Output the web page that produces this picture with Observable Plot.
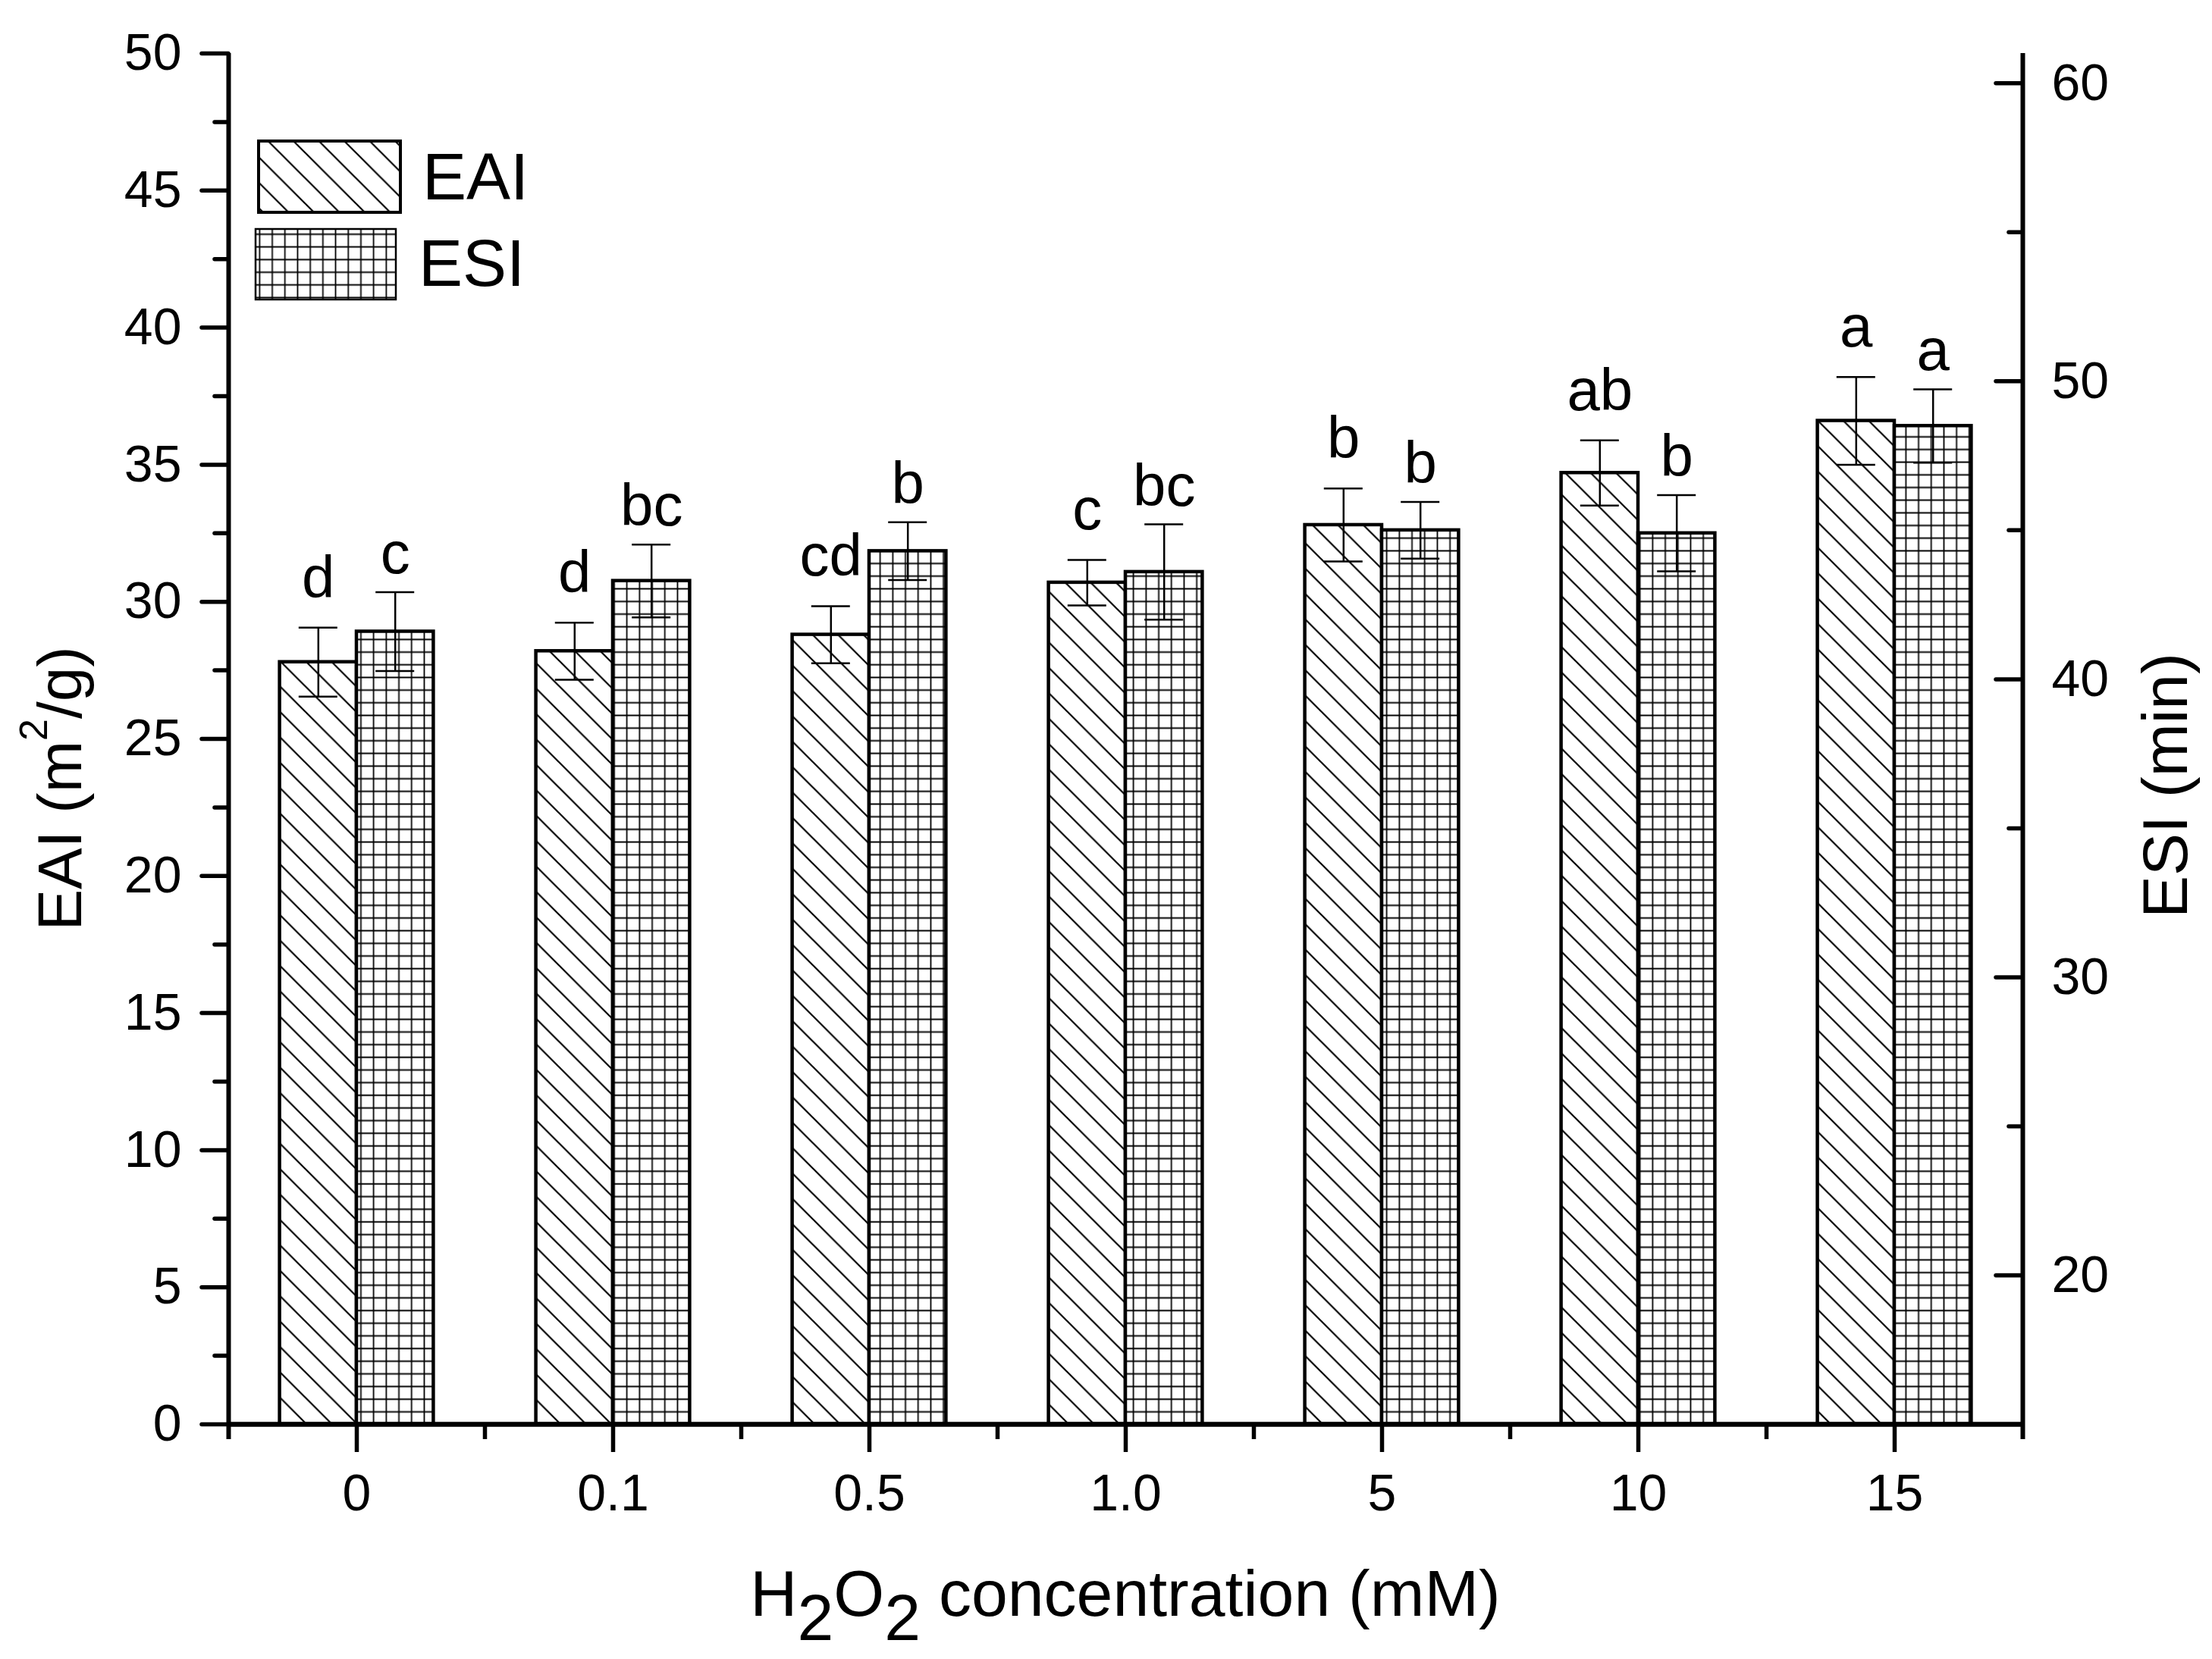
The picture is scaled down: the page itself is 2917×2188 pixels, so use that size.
<!DOCTYPE html>
<html>
<head>
<meta charset="utf-8">
<script src="https://cdn.jsdelivr.net/npm/d3@7"></script>
<script src="https://cdn.jsdelivr.net/npm/@observablehq/plot@0.6"></script>
<style>
  html, body { margin: 0; padding: 0; background: #fff; }
  svg { display: block; }
</style>
</head>
<body>
<div id="chart"></div>
<script>
// ---------- data ----------
const categories = ["0", "0.1", "0.5", "1.0", "5", "10", "15"];
const seriesNames = ["EAI", "ESI"];
const eai = [27.8, 28.2, 28.8, 30.7, 32.8, 34.7, 36.6];       // m2/g (left axis)
const eaiErr = [1.26, 1.04, 1.04, 0.83, 1.33, 1.19, 1.6];
const esi = [41.6, 43.3, 44.3, 43.6, 45.0, 44.9, 48.5];       // min (right axis)
const esiErr = [1.32, 1.22, 0.97, 1.6, 0.95, 1.28, 1.23];
const eaiLetters = ["d", "d", "cd", "c", "b", "ab", "a"];
const esiLetters = ["c", "bc", "b", "bc", "b", "b", "a"];
const eaiTicks = [0, 5, 10, 15, 20, 25, 30, 35, 40, 45, 50];
const eaiMinorTicks = [2.5, 7.5, 12.5, 17.5, 22.5, 27.5, 32.5, 37.5, 42.5, 47.5];
const esiTicks = [20, 30, 40, 50, 60];
const esiMinorTicks = [25, 35, 45, 55];
const eaiDomain = [0, 50];
const esiDomain = [15, 61];

// ---------- layout ----------
const W = 2917, H = 2188;
const mL = 301, mR = 250, mT = 70, mB = 310;
const frameW = W - mL - mR, frameH = H - mT - mB;
const step = frameW / categories.length;
const bw = step * 0.6;
const capHalf = 25.5;
const font = "'Liberation Sans', Arial, Helvetica, sans-serif";

// map the right (ESI) axis onto the left (EAI) axis units
const esiToY = v => (v - esiDomain[0]) * (eaiDomain[1] - eaiDomain[0]) / (esiDomain[1] - esiDomain[0]) + eaiDomain[0];
const yToEsi = y => (y - eaiDomain[0]) * (esiDomain[1] - esiDomain[0]) / (eaiDomain[1] - eaiDomain[0]) + esiDomain[0];

const rows = categories.map((c, i) => ({
  c,
  eai: eai[i], eaiLo: eai[i] - eaiErr[i], eaiHi: eai[i] + eaiErr[i],
  esi: esiToY(esi[i]), esiLo: esiToY(esi[i] - esiErr[i]), esiHi: esiToY(esi[i] + esiErr[i]),
  eaiL: eaiLetters[i], esiL: esiLetters[i]
}));

const chart = Plot.plot({
  width: W, height: H,
  marginLeft: mL, marginRight: mR, marginTop: mT, marginBottom: mB,
  style: { fontFamily: font, background: "#fff", color: "#000", overflow: "visible" },
  x: { type: "band", domain: categories, paddingInner: 0.4, paddingOuter: 0.2, round: false, label: null },
  y: { domain: eaiDomain, label: null },
  marks: [
    // bars
    Plot.barY(rows, { x: "c", y: "eai", insetRight: bw / 2, fill: "url(#hatchEAI)", stroke: "#000", strokeWidth: 4.5 }),
    Plot.barY(rows, { x: "c", y: "esi", insetLeft: bw / 2, fill: "url(#gridESI)", stroke: "#000", strokeWidth: 4.5 }),
    // error bars EAI
    Plot.ruleX(rows, { x: "c", y1: "eaiLo", y2: "eaiHi", dx: -bw / 4, strokeWidth: 2.5 }),
    Plot.tickY(rows, { x: "c", y: "eaiHi", insetLeft: bw / 4 - capHalf, insetRight: 0.75 * bw - capHalf, strokeWidth: 2.5 }),
    Plot.tickY(rows, { x: "c", y: "eaiLo", insetLeft: bw / 4 - capHalf, insetRight: 0.75 * bw - capHalf, strokeWidth: 2.5 }),
    // error bars ESI
    Plot.ruleX(rows, { x: "c", y1: "esiLo", y2: "esiHi", dx: bw / 4, strokeWidth: 2.5 }),
    Plot.tickY(rows, { x: "c", y: "esiHi", insetLeft: 0.75 * bw - capHalf, insetRight: bw / 4 - capHalf, strokeWidth: 2.5 }),
    Plot.tickY(rows, { x: "c", y: "esiLo", insetLeft: 0.75 * bw - capHalf, insetRight: bw / 4 - capHalf, strokeWidth: 2.5 }),
    // significance letters
    Plot.text(rows, { x: "c", y: "eaiHi", text: "eaiL", dx: -bw / 4, dy: -40, lineAnchor: "bottom", fontSize: 78, fill: "#000" }),
    Plot.text(rows, { x: "c", y: "esiHi", text: "esiL", dx: bw / 4, dy: -25, lineAnchor: "bottom", fontSize: 78, fill: "#000" }),
    // left axis
    Plot.axisY({ ticks: eaiTicks, tickSize: 35, tickPadding: 27, fontSize: 68, strokeWidth: 5.5, strokeLinecap: "round", tickFormat: d => String(d), label: null }),
    Plot.axisY({ ticks: eaiMinorTicks, tickSize: 18, tickPadding: 0, strokeWidth: 5.5, strokeLinecap: "round", tickFormat: () => "", label: null }),
    // right axis (ESI)
    Plot.axisY({ anchor: "right", ticks: esiTicks.map(esiToY), tickSize: 0, tickPadding: 38, fontSize: 68, tickFormat: d => String(Math.round(yToEsi(d))), label: null }),
    Plot.ruleY(esiTicks.map(esiToY), { insetLeft: frameW - 35, strokeWidth: 5.5, strokeLinecap: "round" }),
    Plot.ruleY(esiMinorTicks.map(esiToY), { insetLeft: frameW - 18, strokeWidth: 5.5, strokeLinecap: "round" }),
    // x axis
    Plot.axisX({ tickSize: 37, tickPadding: 28, fontSize: 68, strokeWidth: 5.5, label: null }),
    Plot.ruleX(categories.slice(1), { x: d => d, dx: -step / 2, insetTop: frameH, insetBottom: -20, strokeWidth: 5.5 }),
    // axis lines
    Plot.ruleY([eaiDomain[0]], { strokeWidth: 6.5 }),
    Plot.ruleX([categories[0]], { x: d => d, dx: -step / 2, insetBottom: -20, strokeWidth: 6 }),
    Plot.ruleX([categories[categories.length - 1]], { x: d => d, dx: step / 2, insetBottom: -20, strokeWidth: 6 })
  ]
});

document.getElementById("chart").appendChild(chart);

// ---------- patterns ----------
const svg = d3.select(chart);
const defs = svg.insert("defs", ":first-child");
const p = 33.5;
const hatch = defs.append("pattern").attr("id", "hatchEAI")
  .attr("patternUnits", "userSpaceOnUse").attr("width", p).attr("height", p);
hatch.append("rect").attr("width", p).attr("height", p).attr("fill", "#fff");
hatch.append("path")
  .attr("d", `M-3,-3L${p + 3},${p + 3}M-3,${p - 3}L3,${p + 3}M${p - 3},-3L${p + 3},3`)
  .attr("stroke", "#000").attr("stroke-width", 2.2).attr("fill", "none");
const gs = 16.7;
const grid = defs.append("pattern").attr("id", "gridESI")
  .attr("patternUnits", "userSpaceOnUse").attr("width", gs).attr("height", gs);
grid.append("rect").attr("width", gs).attr("height", gs).attr("fill", "#fff");
grid.append("path")
  .attr("d", `M${gs / 2},0V${gs}M0,${gs / 2}H${gs}`)
  .attr("stroke", "#000").attr("stroke-width", 1.8).attr("fill", "none");

// ---------- legend ----------
const leg = svg.append("g").attr("font-family", font).attr("fill", "#000").attr("text-anchor", "start");
leg.append("rect").attr("x", 341).attr("y", 186).attr("width", 187).attr("height", 94)
  .attr("fill", "url(#hatchEAI)").attr("stroke", "#000").attr("stroke-width", 4);
leg.append("rect").attr("x", 337).attr("y", 302).attr("width", 185).attr("height", 93)
  .attr("fill", "url(#gridESI)").attr("stroke", "#000").attr("stroke-width", 2.5);
leg.append("text").attr("x", 557).attr("y", 263).attr("font-size", 87).attr("text-anchor", "start").text(seriesNames[0]);
leg.append("text").attr("x", 552).attr("y", 377).attr("font-size", 87).attr("text-anchor", "start").text(seriesNames[1]);

// ---------- axis titles ----------
const yl = svg.append("text").attr("font-family", font).attr("fill", "#000")
  .attr("transform", "translate(107,1040) rotate(-90)").attr("text-anchor", "middle").attr("font-size", 82);
yl.append("tspan").text("EAI (m");
yl.append("tspan").attr("font-size", 52).attr("dy", -45).text("2");
yl.append("tspan").attr("dy", 45).text("/g)");

svg.append("text").attr("font-family", font).attr("fill", "#000")
  .attr("transform", "translate(2884,1036) rotate(-90)").attr("text-anchor", "middle").attr("font-size", 84)
  .text("ESI (min)");

const xl = svg.append("text").attr("font-family", font).attr("fill", "#000")
  .attr("x", mL + frameW / 2).attr("y", 2131).attr("text-anchor", "middle").attr("font-size", 86);
xl.append("tspan").text("H");
xl.append("tspan").attr("dy", 32).text("2");
xl.append("tspan").attr("dy", -32).text("O");
xl.append("tspan").attr("dy", 32).text("2");
xl.append("tspan").attr("dy", -32).text(" concentration (mM)");
</script>
</body>
</html>
